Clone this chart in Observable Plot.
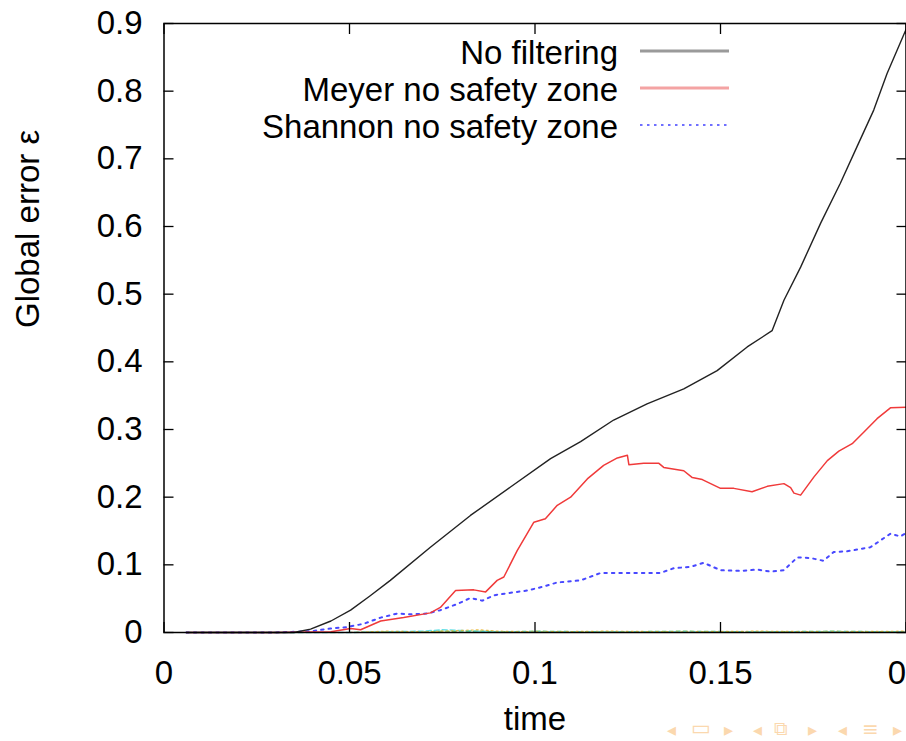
<!DOCTYPE html>
<html><head><meta charset="utf-8">
<script src="https://cdn.jsdelivr.net/npm/d3@7"></script>
<script src="https://cdn.jsdelivr.net/npm/@observablehq/plot@0.6"></script>
<style>
html,body{margin:0;padding:0;background:#fff;overflow:hidden;}
#wrap{position:relative;width:906px;height:741px;overflow:hidden;background:#fff;}
.nav{position:absolute;color:#fbd8ae;font-family:"DejaVu Sans",sans-serif;font-size:14px;line-height:1;}
</style></head><body><div id="wrap"></div>
<script>
// ---- data ----
const seriesNames = ["No filtering", "Meyer no safety zone", "Shannon no safety zone"];

const noFilterT = [0.006, 0.02, 0.035, 0.0395, 0.045, 0.0503, 0.0555, 0.061, 0.0718, 0.0826, 0.0934, 0.1042, 0.1123, 0.1212, 0.1302, 0.1401, 0.1491, 0.1572, 0.1639, 0.1671, 0.1716, 0.177, 0.1823, 0.1868, 0.1913, 0.1949, 0.2];
const noFilterV = [0, 0, 0, 0.005, 0.017, 0.033, 0.054, 0.077, 0.126, 0.173, 0.215, 0.257, 0.282, 0.314, 0.338, 0.360, 0.387, 0.422, 0.446, 0.491, 0.540, 0.605, 0.664, 0.718, 0.772, 0.826, 0.891];

const meyerT = [0.006, 0.03, 0.045, 0.0503, 0.053, 0.0584, 0.0646, 0.0718, 0.0745, 0.0786, 0.0835, 0.0867, 0.0898, 0.0916, 0.0952, 0.0997, 0.1028, 0.106, 0.1096, 0.1141, 0.1185, 0.1222, 0.1249, 0.1253, 0.1293, 0.1334, 0.1347, 0.1401, 0.1424, 0.1451, 0.15, 0.1536, 0.1585, 0.1626, 0.1671, 0.1689, 0.1698, 0.1716, 0.1752, 0.1788, 0.1819, 0.1855, 0.1886, 0.1922, 0.1958, 0.2];
const meyerV = [0, 0, 0.001, 0.006, 0.004, 0.017, 0.022, 0.029, 0.037, 0.062, 0.063, 0.060, 0.077, 0.082, 0.121, 0.163, 0.168, 0.188, 0.200, 0.227, 0.247, 0.258, 0.262, 0.248, 0.250, 0.250, 0.244, 0.239, 0.229, 0.226, 0.213, 0.213, 0.208, 0.216, 0.220, 0.214, 0.206, 0.203, 0.230, 0.254, 0.268, 0.279, 0.296, 0.316, 0.332, 0.333];

const shannonT = [0.006, 0.03, 0.04, 0.0449, 0.0494, 0.0539, 0.0584, 0.0629, 0.0664, 0.0709, 0.0745, 0.079, 0.0826, 0.0858, 0.0889, 0.0925, 0.0979, 0.1024, 0.106, 0.1123, 0.1177, 0.1231, 0.1338, 0.1374, 0.1419, 0.1455, 0.15, 0.1554, 0.1599, 0.1635, 0.1671, 0.1707, 0.1743, 0.1778, 0.1805, 0.1841, 0.1904, 0.1958, 0.1985, 0.2];
const shannonV = [0, 0, 0.002, 0.006, 0.008, 0.013, 0.022, 0.028, 0.027, 0.028, 0.033, 0.042, 0.051, 0.047, 0.055, 0.058, 0.062, 0.068, 0.074, 0.077, 0.088, 0.088, 0.088, 0.095, 0.097, 0.103, 0.092, 0.091, 0.093, 0.090, 0.092, 0.111, 0.110, 0.106, 0.119, 0.120, 0.126, 0.146, 0.142, 0.147];

// faint near-zero series (unlabelled in the legend)
const otherT = [0.006, 0.05, 0.06, 0.07, 0.075, 0.08, 0.085, 0.09, 0.1, 0.12, 0.14, 0.16, 0.18, 0.2];
const otherCyanV = [0, 0, 0.001, 0.002, 0.004, 0.003, 0.002, 0.001, 0.001, 0.001, 0.001, 0.001, 0.001, 0.001];
const otherGreenV = [0, 0, 0.001, 0.001, 0.002, 0.001, 0.002, 0.001, 0.002, 0.001, 0.002, 0.001, 0.002, 0.001];
const otherOrangeV = [0, 0, 0.002, 0.001, 0.002, 0.003, 0.004, 0.002, 0.001, 0.002, 0.001, 0.002, 0.001, 0.002];

const xTicks = [0, 0.05, 0.1, 0.15, 0.2];
// the last label is shown cut to "0" at the right edge in the reference
const xTickLabels = ["0", "0.05", "0.1", "0.15", "0"];
const yTicks = [0, 0.1, 0.2, 0.3, 0.4, 0.5, 0.6, 0.7, 0.8, 0.9];
const yTickLabels = ["0", "0.1", "0.2", "0.3", "0.4", "0.5", "0.6", "0.7", "0.8", "0.9"];

const xLabel = "time";
const yLabel = "Global error \u03B5";

// ---- build tables ----
const rows = (T, V) => T.map((t, i) => ({t, v: V[i]}));
const noFilter = rows(noFilterT, noFilterV);
const meyer = rows(meyerT, meyerV);
const shannon = rows(shannonT, shannonV);
const otherCyan = rows(otherT, otherCyanV);
const otherGreen = rows(otherT, otherGreenV);
const otherOrange = rows(otherT, otherOrangeV);

const FONT = '"Liberation Sans", Arial, Helvetica, sans-serif';
const FS = 33;
const legendStyles = [
  {stroke: "#9a9a9a", width: 3, dash: null},
  {stroke: "#f4a3a3", width: 3, dash: null},
  {stroke: "#6f6fff", width: 2, dash: "2.5,4.5"}
];

function legendMark(index, scales, values, dims) {
  const g = d3.create("svg:g");
  const right = dims.width - dims.marginRight;
  const top = dims.marginTop;
  seriesNames.forEach((name, i) => {
    const y = top + 30 + i * 37;
    g.append("text")
      .attr("x", right - 287.5).attr("y", y).attr("dy", "0.32em")
      .attr("text-anchor", "end").attr("font-size", FS).attr("fill", "black")
      .attr("font-family", FONT)
      .text(name);
    const s = legendStyles[i];
    g.append("line")
      .attr("x1", right - 265.5).attr("x2", right - 176.5)
      .attr("y1", y - 2).attr("y2", y - 2)
      .attr("stroke", s.stroke).attr("stroke-width", s.width)
      .attr("stroke-dasharray", s.dash);
  });
  return g.node();
}

const fmtX = d => xTickLabels[xTicks.indexOf(d)];
const fmtY = d => yTickLabels[yTicks.findIndex(v => Math.abs(v - d) < 1e-9)];
const xInner = xTicks.slice(0, -1);
const xLast = xTicks.slice(-1);

const chart = Plot.plot({
  width: 906,
  height: 741,
  marginLeft: 163.5,
  marginRight: 0.5,
  marginTop: 23,
  marginBottom: 109,
  style: {fontFamily: FONT, fontSize: FS + "px", background: "white", color: "black"},
  x: {domain: [0, 0.2]},
  y: {domain: [0, 0.9]},
  marks: [
    Plot.line(otherGreen, {x: "t", y: "v", stroke: "#30b030", strokeWidth: 1.2, strokeDasharray: "4,3", strokeOpacity: 0.7}),
    Plot.line(otherCyan, {x: "t", y: "v", stroke: "#40d8e0", strokeWidth: 1.5, strokeDasharray: "5,3", strokeOpacity: 0.8}),
    Plot.line(otherOrange, {x: "t", y: "v", stroke: "#e8b020", strokeWidth: 1.2, strokeDasharray: "2,3", strokeOpacity: 0.8}),
    Plot.line(shannon, {x: "t", y: "v", stroke: "#4848ff", strokeWidth: 2, strokeDasharray: "2.5,5"}),
    Plot.line(meyer, {x: "t", y: "v", stroke: "#f03a3a", strokeWidth: 1.5}),
    Plot.line(noFilter, {x: "t", y: "v", stroke: "#222", strokeWidth: 1.4}),
    Plot.frame({stroke: "black", strokeWidth: 1.5}),
    // inward ticks on all four sides
    Plot.axisX(xTicks, {anchor: "bottom", tickSize: 10, dy: -10, fill: "none", label: null, strokeWidth: 1.3}),
    Plot.axisX(xTicks, {anchor: "top", tickSize: 10, dy: 10, fill: "none", label: null, strokeWidth: 1.3}),
    Plot.axisY(yTicks, {anchor: "left", tickSize: 10, dx: 10, fill: "none", label: null, strokeWidth: 1.3}),
    Plot.axisY(yTicks, {anchor: "right", tickSize: 10, dx: -10, fill: "none", label: null, strokeWidth: 1.3}),
    // tick labels
    Plot.text(xInner, {x: d => d, text: fmtX, frameAnchor: "bottom", lineAnchor: "top", dy: 28, fontSize: FS}),
    Plot.text(xLast, {x: d => d, text: fmtX, frameAnchor: "bottom", lineAnchor: "top", dy: 28, textAnchor: "end", fontSize: FS}),
    Plot.axisY(yTicks, {anchor: "left", tickSize: 0, tickPadding: 21.5, tickFormat: fmtY, label: null, fontSize: FS}),
    // axis titles
    Plot.text([xLabel], {text: d => d, frameAnchor: "bottom", dy: 97, fontSize: FS}),
    Plot.text([yLabel], {text: d => d, frameAnchor: "left", dx: -136, rotate: -90, fontSize: FS}),
    legendMark
  ]
});

const wrap = document.getElementById("wrap");
wrap.appendChild(chart);

// beamer navigation symbols (bottom right)
const navGlyphs = [
  ["\u25C2", 667, 18, 721], ["\u25AD", 691, 21, 718], ["\u25B8", 724, 18, 721],
  ["\u25C2", 753, 18, 721], ["\u29C9", 774, 19, 719], ["\u25B8", 808, 18, 721],
  ["\u25C2", 838, 18, 721], ["\u2261", 862, 20, 719], ["\u25B8", 893, 18, 721]
];
navGlyphs.forEach(([g, left, size, top]) => {
  const s = document.createElement("span");
  s.className = "nav";
  s.textContent = g;
  s.style.left = left + "px";
  s.style.top = top + "px";
  s.style.fontSize = size + "px";
  wrap.appendChild(s);
});
</script></body></html>
